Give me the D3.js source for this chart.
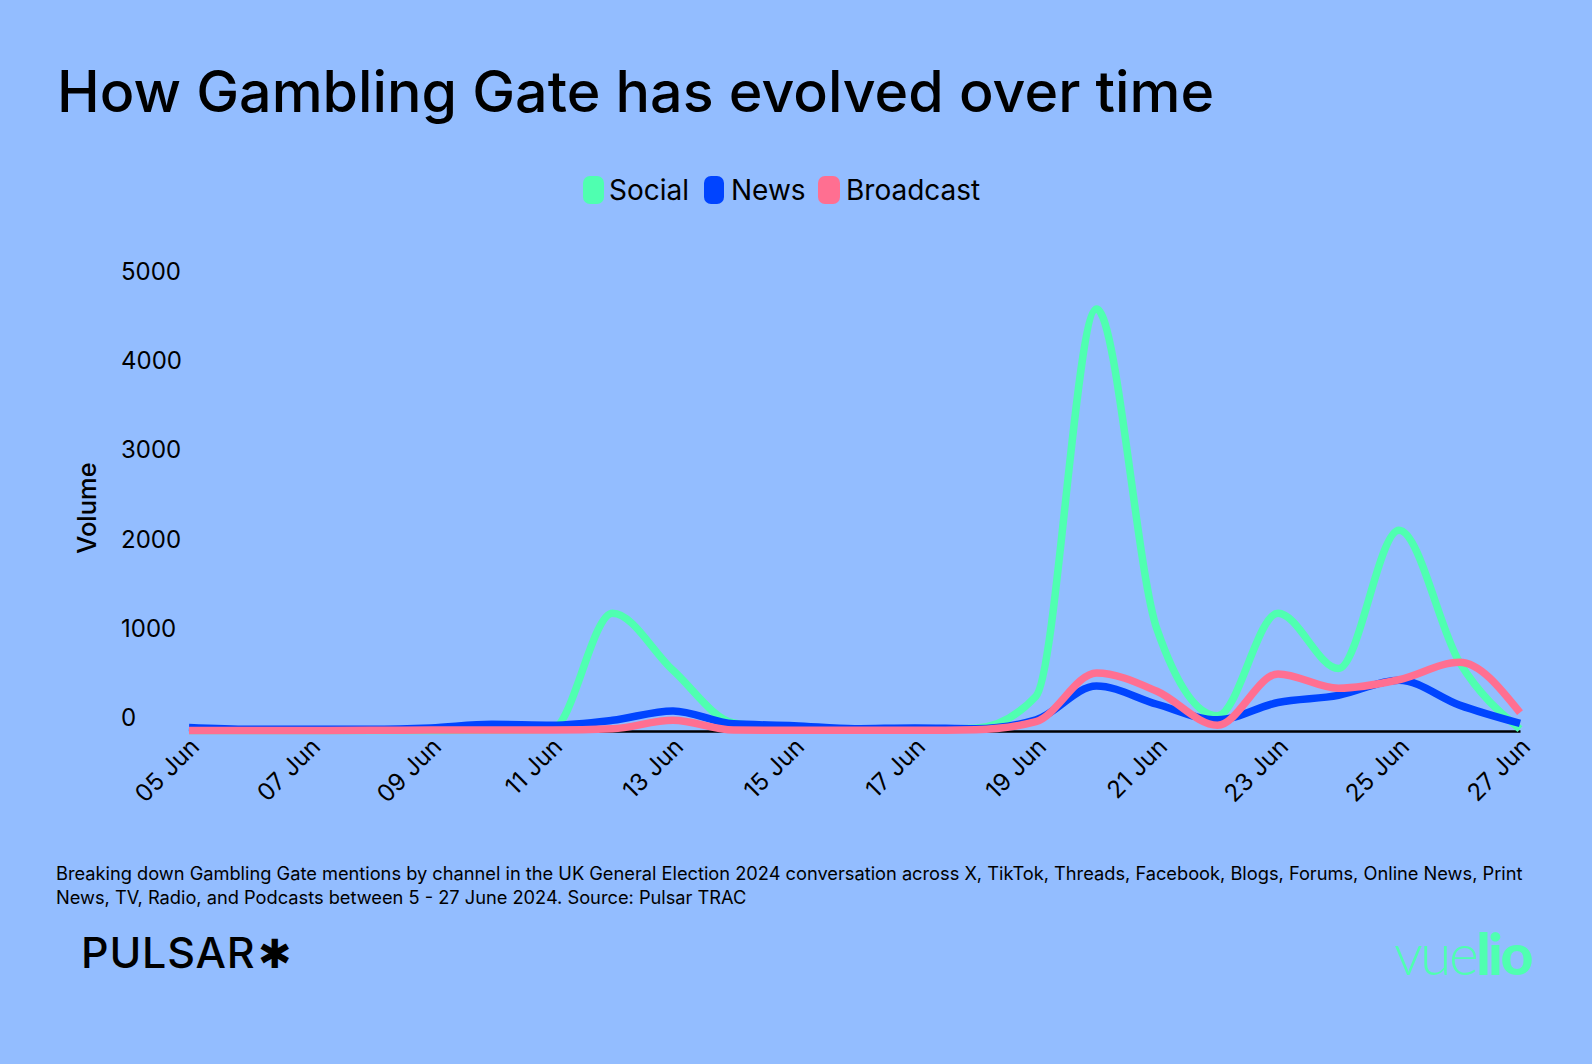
<!DOCTYPE html>
<html>
<head>
<meta charset="utf-8">
<script src="https://d3js.org/d3.v7.min.js"></script>
<style>
  html, body { margin: 0; padding: 0; background: #93bdff; }
  svg { display: block; font-family: Inter, sans-serif; }
</style>
</head>
<body>
<svg width="1592" height="1064"></svg>
<script>
const days = ['2024-06-05', '2024-06-06', '2024-06-07', '2024-06-08', '2024-06-09', '2024-06-10',
  '2024-06-11', '2024-06-12', '2024-06-13', '2024-06-14', '2024-06-15', '2024-06-16',
  '2024-06-17', '2024-06-18', '2024-06-19', '2024-06-20', '2024-06-21', '2024-06-22',
  '2024-06-23', '2024-06-24', '2024-06-25', '2024-06-26', '2024-06-27']
const social = [5, 5, 5, 5, 5, 10, 20, 1320, 680, 90, 30, 15, 15, 30, 390, 4730, 1140, 170, 1320, 700, 2250, 770, 20]
const news = [40, 20, 20, 20, 35, 75, 65, 120, 225, 80, 60, 25, 35, 25, 125, 505, 300, 125, 320, 400, 570, 290, 85]
const broadcast = [5, 5, 5, 8, 10, 12, 10, 25, 120, 10, 8, 8, 8, 15, 105, 650, 445, 65, 640, 480, 575, 770, 205]
const yTicks = [0, 1000, 2000, 3000, 4000, 5000]
const names = ['Social', 'News', 'Broadcast']
const colors = ['#4fffb0', '#0044ff', '#ff6f91']
const ink = '#000'

const dates = days.map(d3.utcParse('%Y-%m-%d'))
const svg = d3.select('svg')

const x = d3.scaleUtc().domain(d3.extent(dates)).range([189, 1520])
const y = d3.scaleLinear().domain([0, 5000]).range([731, 285])

// title
svg.append('text')
  .attr('x', 57).attr('y', 112)
  .attr('font-size', 57.35).attr('font-weight', 500)
  .attr('fill', ink)
  .text('How Gambling Gate has evolved over time')

// legend
const legendX = [583, 704, 818]
const legendW = [21, 20, 22]
const legendText = [609, 731, 846]
const legend = svg.append('g').selectAll('g').data(names).join('g')
legend.append('rect')
  .attr('x', (d, i) => legendX[i]).attr('y', 176)
  .attr('width', (d, i) => legendW[i]).attr('height', 28).attr('rx', 7)
  .attr('fill', (d, i) => colors[i])
legend.append('text')
  .attr('x', (d, i) => legendText[i]).attr('y', 200)
  .attr('font-size', 28).attr('fill', ink)
  .text(d => d)

// axes
const yAxis = svg.append('g')
  .attr('transform', 'translate(181,0)')
  .call(d3.axisLeft(y).tickValues(yTicks).tickSize(0).tickFormat(d3.format('d')))
yAxis.select('.domain').remove()
yAxis.selectAll('text')
  .attr('x', -60).attr('dy', '-0.23em')
  .attr('text-anchor', 'start')
  .attr('font-family', 'Inter, sans-serif').attr('font-size', 24).attr('fill', ink)

svg.append('text')
  .attr('transform', 'translate(96,508) rotate(-90)')
  .attr('text-anchor', 'middle')
  .attr('font-size', 25.5).attr('font-weight', 500).attr('fill', ink)
  .text('Volume')

const xAxis = svg.append('g')
  .attr('transform', 'translate(0,731)')
  .call(d3.axisBottom(x)
    .tickValues(dates.filter((d, i) => i % 2 === 0))
    .tickSize(0)
    .tickFormat(d3.utcFormat('%d %b')))
xAxis.select('.domain').attr('stroke', ink).attr('stroke-width', 2.5)
xAxis.selectAll('text')
  .attr('font-family', 'Inter, sans-serif').attr('font-size', 24).attr('fill', ink)
  .attr('text-anchor', 'end')
  .attr('transform', 'translate(-3,3) rotate(-45)')

// lines, drawn social first so broadcast ends on top
const line = d3.line()
  .x((d, i) => x(dates[i]))
  .y(d => y(d))
  .curve(d3.curveMonotoneX)

svg.append('g').selectAll('path').data([social, news, broadcast]).join('path')
  .attr('d', line)
  .attr('fill', 'none')
  .attr('stroke', (d, i) => colors[i])
  .attr('stroke-width', 7.5)
  .attr('stroke-linejoin', 'round')

// footnote
const note = ['Breaking down Gambling Gate mentions by channel in the UK General Election 2024 conversation across X, TikTok, Threads, Facebook, Blogs, Forums, Online News, Print',
  'News, TV, Radio, and Podcasts between 5 - 27 June 2024. Source: Pulsar TRAC']
svg.append('g').selectAll('text').data(note).join('text')
  .attr('x', 56).attr('y', (d, i) => 880 + i * 24)
  .attr('font-size', 18.24).attr('fill', ink)
  .text(d => d)

// logos
const pulsar = svg.append('text')
  .attr('x', 81).attr('y', 968)
  .attr('font-size', 43).attr('font-weight', 500).attr('letter-spacing', 0.8)
  .attr('fill', ink)
pulsar.append('tspan').text('PULSAR')
pulsar.append('tspan').attr('dx', 3).attr('font-size', 40).text('✱')

const vuelio = svg.append('text')
  .attr('x', 1394).attr('y', 975)
  .attr('font-family', 'Lato, sans-serif').attr('font-size', 57).attr('letter-spacing', -2.5)
  .attr('fill', colors[0])
vuelio.append('tspan').attr('font-weight', 300).text('vue')
vuelio.append('tspan').attr('font-weight', 900).text('lio')
</script>
</body>
</html>
